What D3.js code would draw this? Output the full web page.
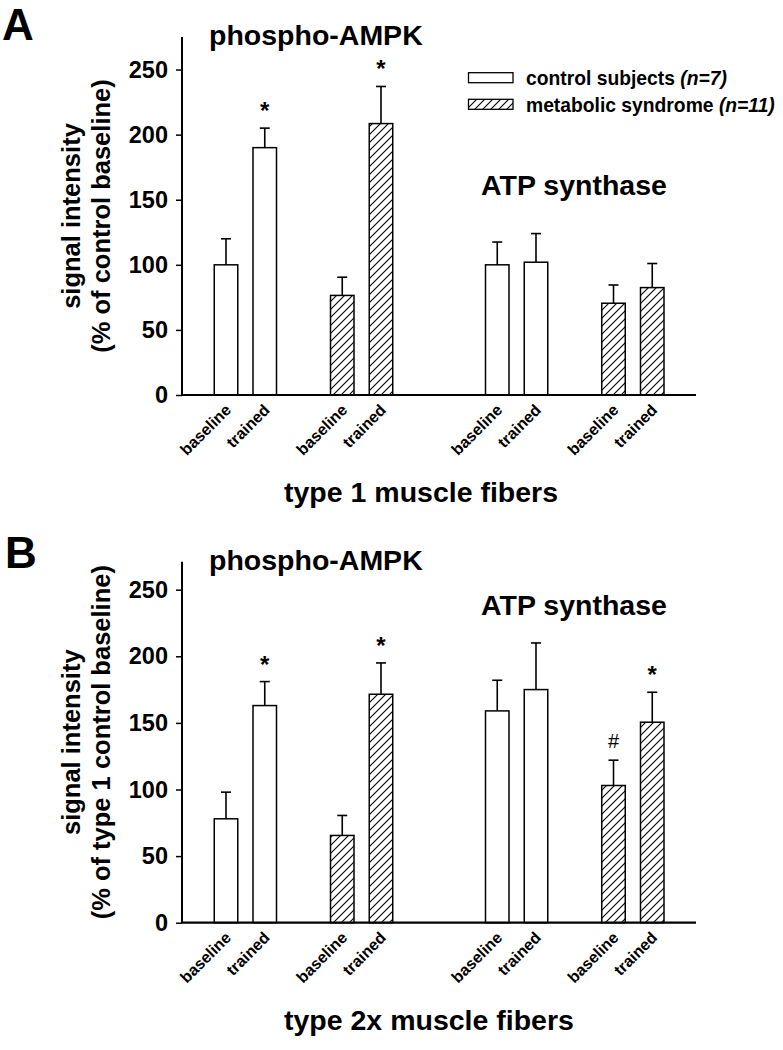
<!DOCTYPE html>
<html>
<head>
<meta charset="utf-8">
<script src="https://cdn.jsdelivr.net/npm/d3@7"></script>
<style>
  html, body { margin: 0; padding: 0; background: #fff; }
  svg text { font-family: "Liberation Sans", Arial, Helvetica, sans-serif; fill: #000; }
</style>
</head>
<body>
<svg id="chart" width="783" height="1050"></svg>
<script>
// ---------------- data ----------------
const proteins   = ["phospho-AMPK", "ATP synthase"];
const groups     = ["control subjects", "metabolic syndrome"];
const groupN     = ["7", "11"];
const conditions = ["baseline", "trained"];

// order: protein > group > condition
const type1Mean  = [100, 190, 76.5, 208.5, 100, 102, 70.5, 82.5];
const type1Sem   = [20, 15, 14, 28.5, 17.5, 22, 14, 18.5];
const type1Marks = ["", "*", "", "*", "", "", "", ""];

const type2xMean  = [78, 163, 65.5, 171.5, 159, 175, 103, 150.5];
const type2xSem   = [20, 18, 15, 23.5, 23, 35, 19, 22.5];
const type2xMarks = ["", "*", "", "*", "", "", "#", "*"];

const yTicks = [0, 50, 100, 150, 200, 250];

// ---------------- layout ----------------
const svg = d3.select("#chart");
const FONT = '"Liberation Sans", Arial, Helvetica, sans-serif';

const defs = svg.append("defs");
const pat = defs.append("pattern")
  .attr("id", "hatch").attr("patternUnits", "userSpaceOnUse")
  .attr("width", 8).attr("height", 8);
pat.append("rect").attr("width", 8).attr("height", 8).attr("fill", "#fff");
pat.append("path")
  .attr("d", "M-1,1 l2,-2 M0,8 l8,-8 M7,9 l2,-2")
  .attr("stroke", "#000").attr("stroke-width", 1.1);

const axisLeft = 182, axisRight = 696;
const xP = d3.scalePoint().domain(proteins).range([0, 271.25]);
const xG = d3.scalePoint().domain(groups).range([0, 116.25]);
const xC = d3.scalePoint().domain(conditions).range([0, 38.75]);
const firstCenter = 226;
const barW = 23.5;

function rows(mean, sem, marks) {
  const out = [];
  let i = 0;
  proteins.forEach(p => groups.forEach((g, gi) => conditions.forEach(c => {
    out.push({p, g, gi, c, v: mean[i], e: sem[i], m: marks[i]});
    i++;
  })));
  return out;
}
const cx = d => firstCenter + xP(d.p) + xG(d.g) + xC(d.c);

const panels = [
  {letter: "A", letterY: 40, letterX: 2, yMax: 275, top: 37, bottom: 395,
   data: rows(type1Mean, type1Sem, type1Marks),
   ylab: ["signal intensity", "(% of control baseline)"],
   xtitle: "type 1 muscle fibers", xtitleY: 502,
   t1Y: 45, t2Y: 195, legend: true},
  {letter: "B", letterY: 568, letterX: 5, yMax: 271, top: 561.7, bottom: 922.7,
   data: rows(type2xMean, type2xSem, type2xMarks),
   ylab: ["signal intensity", "(% of type 1 control baseline)"],
   xtitle: "type 2x muscle fibers", xtitleY: 1030,
   t1Y: 570, t2Y: 615, legend: false}
];

panels.forEach(P => {
  const g = svg.append("g");
  const y = d3.scaleLinear().domain([0, P.yMax]).range([P.bottom, P.top]);

  // panel letter
  g.append("text").attr("x", P.letterX).attr("y", P.letterY)
    .attr("font-size", 44).attr("font-weight", "bold").text(P.letter);

  // titles
  g.append("text").attr("x", 209).attr("y", P.t1Y)
    .attr("font-size", 28.5).attr("font-weight", "bold").text(proteins[0]);
  g.append("text").attr("x", 481).attr("y", P.t2Y)
    .attr("font-size", 28.5).attr("font-weight", "bold").text(proteins[1]);

  // y axis
  const ya = g.append("g").attr("transform", `translate(${axisLeft},0)`)
    .call(d3.axisLeft(y).tickValues(yTicks).tickSize(6).tickPadding(8).tickFormat(d3.format("d")));
  ya.select(".domain").remove();
  ya.selectAll(".tick line").attr("stroke", "#000").attr("stroke-width", 1.5);
  ya.selectAll(".tick text").attr("font-size", 23.5).attr("font-weight", "bold")
    .attr("font-family", FONT).attr("fill", "#000");
  g.append("line").attr("x1", axisLeft).attr("x2", axisLeft)
    .attr("y1", P.top).attr("y2", P.bottom)
    .attr("stroke", "#000").attr("stroke-width", 2);

  // y label
  const midY = (P.top + P.bottom) / 2;
  P.ylab.forEach((t, i) => {
    g.append("text")
      .attr("transform", `translate(${80 + i * 30},${midY}) rotate(-90)`)
      .attr("text-anchor", "middle").attr("font-size", 25.5).attr("font-weight", "bold")
      .text(t);
  });

  // bars
  const bars = g.append("g");
  bars.selectAll("rect").data(P.data).join("rect")
    .attr("x", d => cx(d) - barW / 2)
    .attr("y", d => y(d.v))
    .attr("width", barW)
    .attr("height", d => y(0) - y(d.v))
    .attr("fill", d => d.gi === 0 ? "#fff" : "url(#hatch)")
    .attr("stroke", "#000").attr("stroke-width", 1.5);

  // error bars
  const eb = g.append("g").attr("stroke", "#000").attr("stroke-width", 1.6);
  eb.selectAll("line.v").data(P.data).join("line").attr("class", "v")
    .attr("x1", cx).attr("x2", cx)
    .attr("y1", d => y(d.v)).attr("y2", d => y(d.v + d.e));
  eb.selectAll("line.c").data(P.data).join("line").attr("class", "c")
    .attr("x1", d => cx(d) - 5).attr("x2", d => cx(d) + 5)
    .attr("y1", d => y(d.v + d.e)).attr("y2", d => y(d.v + d.e));

  // significance marks
  g.selectAll("text.mark").data(P.data.filter(d => d.m)).join("text")
    .attr("class", "mark")
    .attr("x", cx)
    .attr("y", d => y(d.v + d.e) - (d.m === "#" ? 12 : 9))
    .attr("text-anchor", "middle")
    .attr("font-size", d => d.m === "#" ? 20 : 24)
    .attr("font-weight", d => d.m === "#" ? "normal" : "bold")
    .text(d => d.m);

  // x axis line
  g.append("line").attr("x1", axisLeft - 1).attr("x2", axisRight)
    .attr("y1", y(0)).attr("y2", y(0))
    .attr("stroke", "#000").attr("stroke-width", 2.2);

  // x category labels
  g.selectAll("text.xl").data(P.data).join("text").attr("class", "xl")
    .attr("transform", d => `translate(${cx(d) + 6},${y(0) + 16}) rotate(-45)`)
    .attr("text-anchor", "end").attr("font-size", 16).attr("font-weight", "bold")
    .text(d => d.c);

  // x title
  g.append("text").attr("x", 284).attr("y", P.xtitleY)
    .attr("font-size", 28.5).attr("font-weight", "bold").text(P.xtitle);

  // legend
  if (P.legend) {
    const lg = g.append("g");
    groups.forEach((name, i) => {
      const ly = 72.7 + i * 26.6;
      lg.append("rect").attr("x", 468.5).attr("y", ly).attr("width", 44.5).attr("height", 10)
        .attr("fill", i === 0 ? "#fff" : "url(#hatch)")
        .attr("stroke", "#000").attr("stroke-width", 1.3);
      const t = lg.append("text").attr("x", 526).attr("y", ly + 12.5)
        .attr("font-size", 19.3).attr("font-weight", "bold");
      t.append("tspan").text(name + " ");
      t.append("tspan").attr("font-style", "italic").text("(");
      t.append("tspan").attr("font-style", "italic").text("n");
      t.append("tspan").attr("font-style", "italic").text("=" + groupN[i] + ")");
    });
  }
});
</script>
</body>
</html>
